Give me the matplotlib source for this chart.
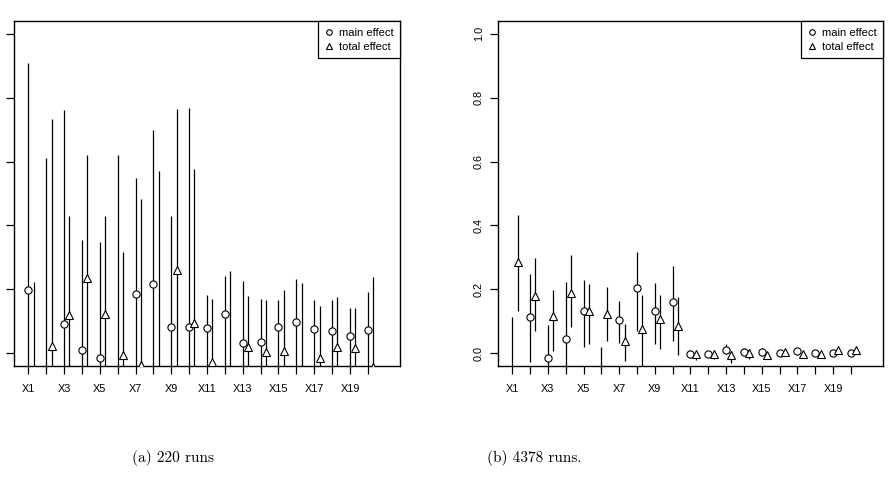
import matplotlib
matplotlib.use("Agg")
import matplotlib.pyplot as plt
from matplotlib.lines import Line2D

plt.rcParams['font.family'] = ['Liberation Sans', 'DejaVu Sans']

names = ["X%d" % i for i in range(1, 21)]

# (a) 220 runs
main_a = [0.198, -0.10, 0.093, 0.009, -0.015, -0.10, 0.184, 0.216, 0.083, 0.081,
          0.078, 0.122, 0.032, 0.036, 0.083, 0.099, 0.075, 0.070, 0.053, 0.072]
main_a_lo = [-0.51, -0.80, -0.57, -0.34, -0.38, -0.80, -0.18, -0.27, -0.26, -0.60,
             -0.08, -0.06, -0.12, -0.09, -0.07, -0.05, -0.08, -0.07, -0.06, -0.07]
main_a_hi = [0.909, 0.612, 0.760, 0.354, 0.349, 0.620, 0.547, 0.698, 0.429, 0.768,
             0.182, 0.242, 0.226, 0.170, 0.167, 0.232, 0.167, 0.168, 0.141, 0.193]
total_a = [-0.08, 0.023, 0.119, 0.234, 0.123, -0.006, -0.037, -0.08, 0.262, 0.095,
           -0.029, -0.06, 0.019, 0.004, 0.006, -0.06, -0.016, 0.019, 0.017, -0.042]
total_a_lo = [-0.40, -0.60, -0.20, -0.15, -0.18, -0.33, -0.50, -0.40, -0.25, -0.38,
              -0.20, -0.35, -0.14, -0.16, -0.18, -0.30, -0.18, -0.13, -0.10, -0.30]
total_a_hi = [0.223, 0.734, 0.430, 0.620, 0.429, 0.318, 0.484, 0.570, 0.763, 0.576,
              0.170, 0.257, 0.179, 0.167, 0.197, 0.220, 0.149, 0.175, 0.140, 0.238]

# (b) 4378 runs
main_b = [-0.08, 0.113, -0.014, 0.046, 0.133, -0.10, 0.104, 0.205, 0.131, 0.161,
          -0.001, -0.002, 0.010, 0.005, 0.005, 0.002, 0.006, 0.000, 0.001, 0.001]
main_b_lo = [-0.27, -0.026, -0.12, -0.13, 0.019, -0.22, 0.033, 0.071, 0.029, 0.039,
             -0.016, -0.013, -0.003, -0.005, -0.005, -0.006, -0.001, -0.008, -0.006, -0.008]
main_b_hi = [0.113, 0.248, 0.088, 0.222, 0.229, 0.021, 0.163, 0.318, 0.221, 0.273,
             0.010, 0.008, 0.029, 0.016, 0.016, 0.010, 0.013, 0.007, 0.008, 0.010]
total_b = [0.286, 0.179, 0.117, 0.190, 0.131, 0.123, 0.037, 0.075, 0.107, 0.085,
           -0.004, -0.004, -0.007, 0.000, -0.006, 0.003, -0.003, -0.001, 0.009, 0.011]
total_b_lo = [0.133, 0.068, 0.008, 0.081, 0.029, 0.039, -0.023, -0.05, 0.013, -0.005,
              -0.021, -0.018, -0.031, -0.019, -0.016, -0.006, -0.010, -0.008, 0.002, 0.002]
total_b_hi = [0.432, 0.297, 0.198, 0.307, 0.217, 0.206, 0.093, 0.182, 0.183, 0.176,
              0.008, 0.008, 0.007, 0.013, 0.002, 0.012, 0.003, 0.005, 0.016, 0.021]

captions = ["(a) 220 runs", "(b) 4378 runs."]
yticks = [0.0, 0.2, 0.4, 0.6, 0.8, 1.0]
offset = 0.3

W, H = 892, 480
fig = plt.figure(figsize=(W / 100, H / 100), dpi=100)


def px_axes(x0, x1, y0, y1):
    return fig.add_axes([x0 / W, 1 - y1 / H, (x1 - x0) / W, (y1 - y0) / H])


def draw(ax, main, mlo, mhi, tot, tlo, thi, show_ylabels):
    xs = list(range(1, 21))
    xt = [x + offset for x in xs]
    ax.vlines(xs, mlo, mhi, color="black", lw=0.9)
    ax.vlines(xt, tlo, thi, color="black", lw=0.9)
    ax.plot(xs, main, "o", ms=5.2, mfc="white", mec="black", mew=0.8, zorder=3)
    ax.plot(xt, tot, "^", ms=6, mfc="white", mec="black", mew=0.8, zorder=3)
    ax.set_xlim(0.2, 21.8)
    ax.set_ylim(-0.04, 1.04)
    ax.set_xticks(xs)
    ax.set_xticklabels([n if i % 2 == 0 else "" for i, n in enumerate(names)])
    ax.set_yticks(yticks)
    ax.set_yticklabels(["%.1f" % v for v in yticks], rotation=90, va="center")
    ax.tick_params(direction="out", length=6, width=0.9, labelsize=7.8, pad=7)
    ax.tick_params(axis="y", labelleft=show_ylabels, pad=4)
    for s in ax.spines.values():
        s.set_linewidth(1.0)
    handles = [
        Line2D([], [], marker="o", ls="", ms=4, mfc="white", mec="black", mew=0.8),
        Line2D([], [], marker="^", ls="", ms=4.5, mfc="white", mec="black", mew=0.8),
    ]
    leg = ax.legend(handles, ["main effect", "total effect"], loc="upper right",
                    borderaxespad=0, fancybox=False, fontsize=8, handlelength=0.8,
                    handletextpad=0.5, labelspacing=0.35, borderpad=0.6,
                    framealpha=1)
    leg.get_frame().set_edgecolor("black")
    leg.get_frame().set_linewidth(0.9)


ax1 = px_axes(14, 400, 21, 366)
draw(ax1, main_a, main_a_lo, main_a_hi, total_a, total_a_lo, total_a_hi, False)
ax2 = px_axes(498, 883, 21, 366)
draw(ax2, main_b, main_b_lo, main_b_hi, total_b, total_b_lo, total_b_hi, True)

fig.text(173 / W, 1 - 458 / H, captions[0], family="cmr10", fontsize=11,
         ha="center", va="center")
fig.text(534 / W, 1 - 458 / H, captions[1], family="cmr10", fontsize=11,
         ha="center", va="center")

fig.savefig("out.png", dpi=100)
